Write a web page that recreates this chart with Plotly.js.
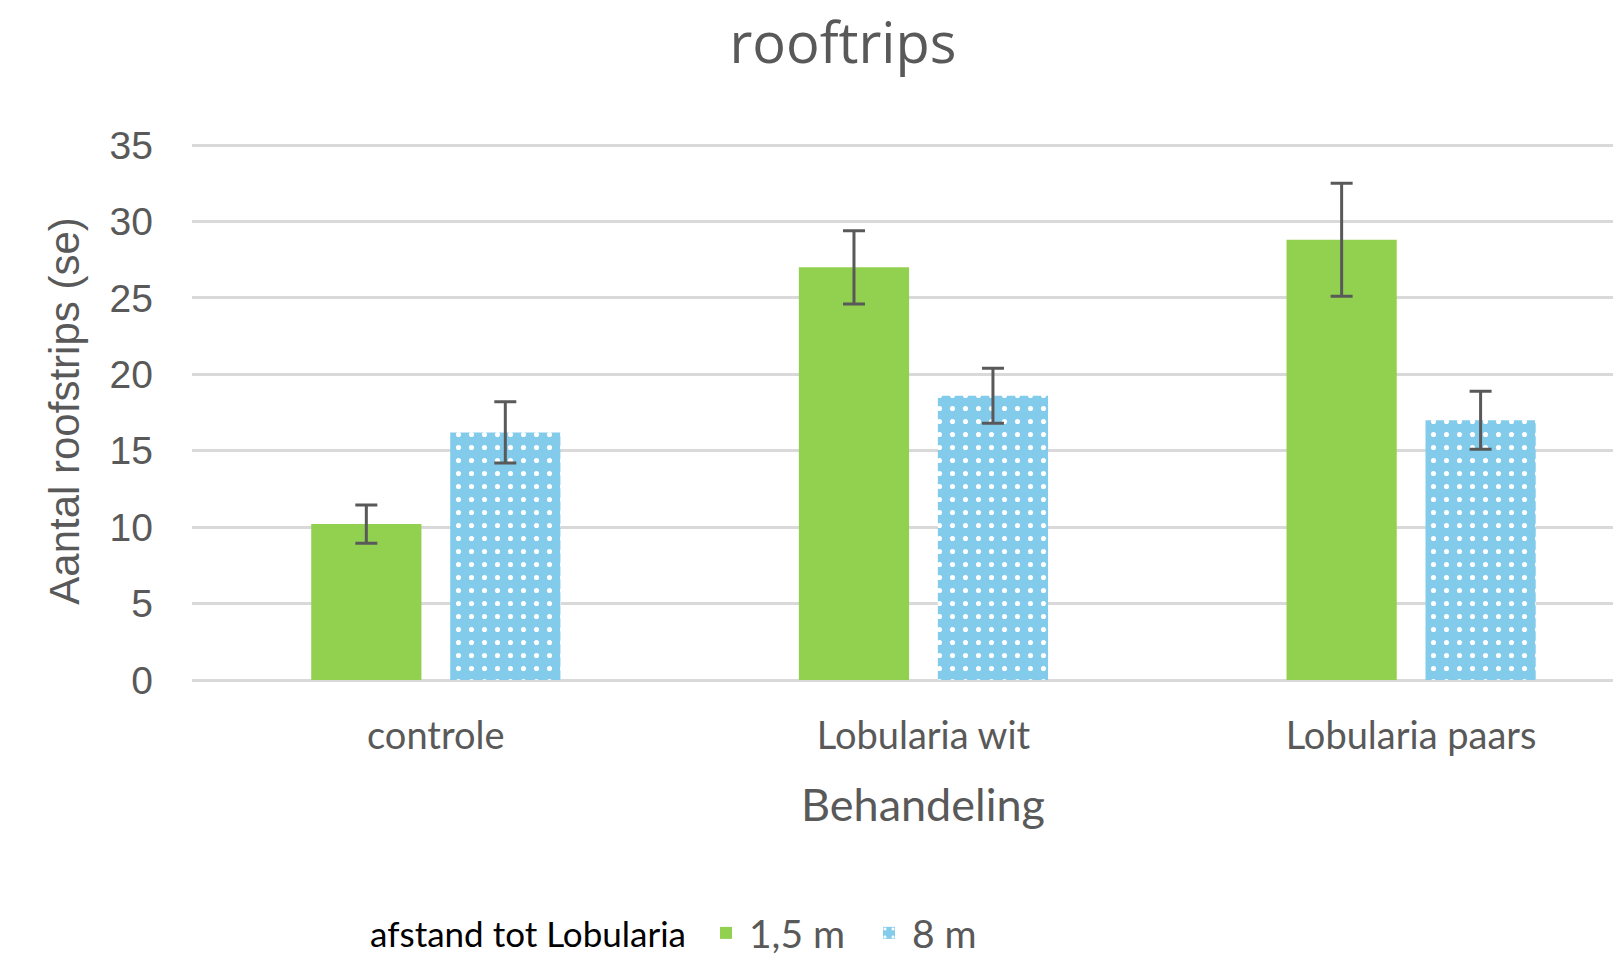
<!DOCTYPE html>
<html>
<head>
<meta charset="utf-8">
<script src="https://cdn.plot.ly/plotly-3.0.1.min.js"></script>
<style>html,body{margin:0;padding:0;background:#fff;}#chart{width:1613px;height:955px;}</style>
</head>
<body>
<div id="chart"></div>
<script>
const categories = ["controle", "Lobularia wit", "Lobularia paars"];
const series1Name = "1,5 m";
const series1Values = [10.2, 27.0, 28.8];
const series1Err = [1.25, 2.4, 3.7];
const series2Name = "8 m";
const series2Values = [16.2, 18.6, 17.0];
const series2Err = [2.0, 1.8, 1.9];
const yTicks = [0, 5, 10, 15, 20, 25, 30, 35];

const errStyle = {type: 'data', visible: true, color: '#595959', thickness: 3, width: 11};

const traces = [
  {
    type: 'bar', name: series1Name, x: categories, y: series1Values,
    marker: {color: '#92D050'},
    error_y: Object.assign({array: series1Err}, errStyle)
  },
  {
    type: 'bar', name: series2Name, x: categories, y: series2Values,
    marker: {color: '#83CBEB', pattern: {shape: '.', fgcolor: '#ffffff', bgcolor: '#83CBEB', size: 13, solidity: 0.12}},
    error_y: Object.assign({array: series2Err}, errStyle)
  }
];

const layout = {
  width: 1613, height: 955,
  margin: {l: 192, r: 0, t: 142, b: 275},
  paper_bgcolor: '#ffffff', plot_bgcolor: '#ffffff',
  title: {text: 'rooftrips', xref: 'container', x: 0.5226, xanchor: 'center', yref: 'container', y: 0.955, yanchor: 'middle',
          font: {family: 'Open Sans, sans-serif', size: 56, color: '#595959'}},
  barmode: 'group', bargap: 0.43, bargroupgap: 0.207,
  xaxis: {
    type: 'category', range: [-0.5, 2.414], showgrid: false, showline: false, zeroline: false,
    ticks: '', ticklabelstandoff: 30,
    tickfont: {family: 'Lato, sans-serif', size: 38, color: '#595959'}
  },
  yaxis: {
    range: [0, 35.2], tickvals: yTicks, ticktext: yTicks.map(String),
    showgrid: true, gridcolor: '#d9d9d9', gridwidth: 3,
    zeroline: true, zerolinecolor: '#d9d9d9', zerolinewidth: 3,
    showline: false, ticks: '', ticklabelstandoff: 38,
    tickfont: {family: 'Liberation Sans, Arial, sans-serif', size: 39, color: '#595959'},
    title: {text: 'Aantal roofstrips (se)', standoff: 16, font: {family: 'Liberation Sans, Arial, sans-serif', size: 42, color: '#595959'}}
  },
  annotations: [
    {text: 'Behandeling', xref: 'x', x: 1, yref: 'paper', y: (680 - 804) / 538, xanchor: 'center', yanchor: 'middle',
     showarrow: false, font: {family: 'Lato, sans-serif', size: 45, color: '#595959'}}
  ],
  showlegend: true,
  legend: {
    orientation: 'h', xref: 'container', x: 0.4331, xanchor: 'center', yref: 'container', y: 0.023, yanchor: 'middle',
    font: {family: 'Lato, sans-serif', size: 39, color: '#595959'},
    title: {text: 'afstand tot Lobularia ', side: 'left', font: {family: 'Lato, sans-serif', size: 35, color: '#000000'}},
    itemwidth: 36, entrywidth: 112, entrywidthmode: 'pixels', traceorder: 'normal'
  }
};

Plotly.newPlot('chart', traces, layout, {displayModeBar: false, staticPlot: true});
</script>
</body>
</html>
